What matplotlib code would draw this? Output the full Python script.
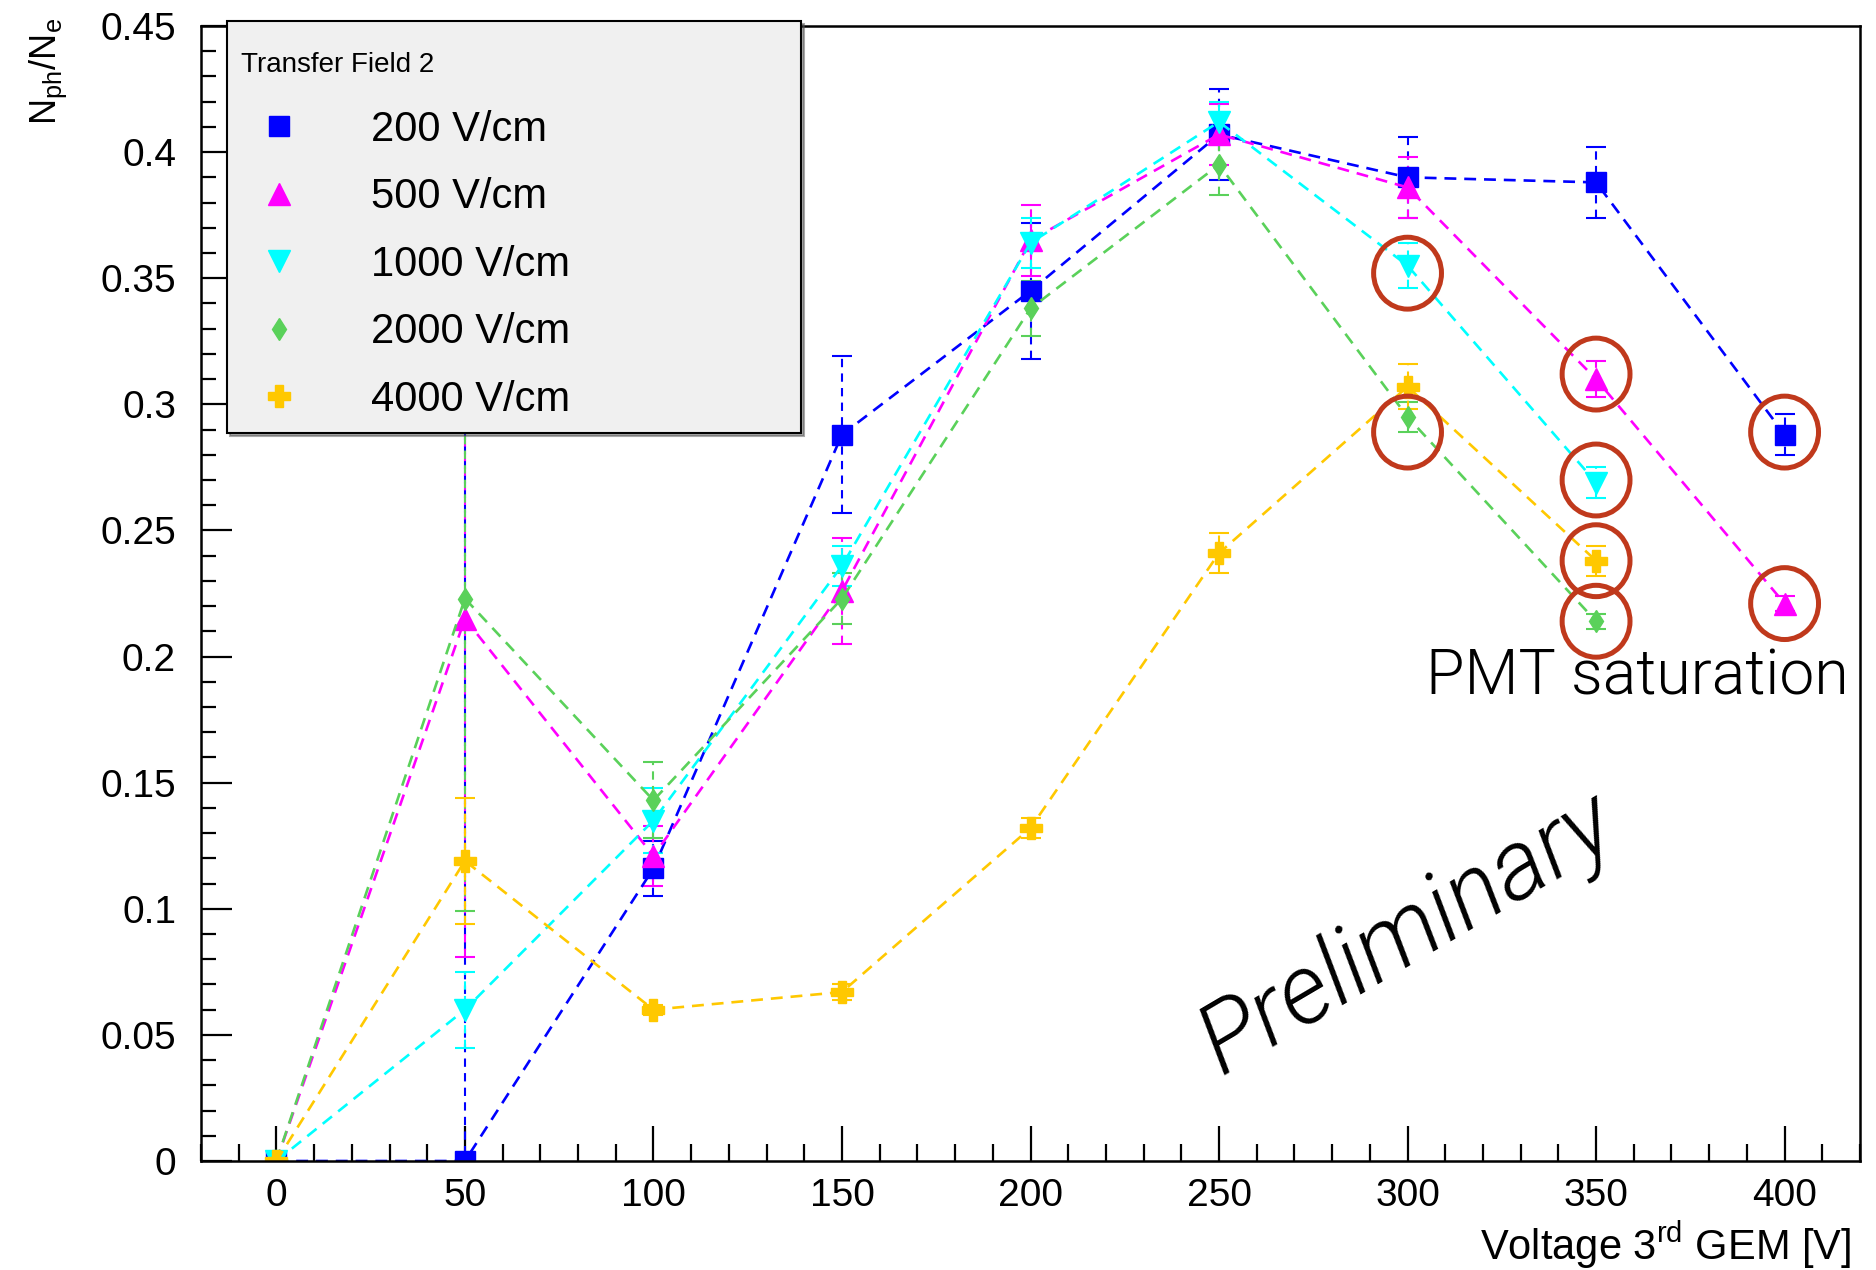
import matplotlib
matplotlib.use("Agg")
import matplotlib.pyplot as plt
from matplotlib.lines import Line2D
from matplotlib.patches import Ellipse
from matplotlib.ticker import MultipleLocator, FuncFormatter

plt.rcParams["font.family"] = ["Liberation Sans", "DejaVu Sans"]
plt.rcParams["mathtext.fontset"] = "custom"
plt.rcParams["mathtext.rm"] = "Liberation Sans"
plt.rcParams["mathtext.it"] = "Liberation Sans:italic"

# Voltage applied to the 3rd GEM [V]
voltage = [0, 50, 100, 150, 200, 250, 300, 350, 400]

# N_ph / N_e for each transfer field, with errors
ratio_200 = [0.0, 0.0, 0.116, 0.288, 0.345, 0.407, 0.390, 0.388, 0.288]
err_200 = [0.0, 0.33, 0.011, 0.031, 0.027, 0.018, 0.016, 0.014, 0.008]

ratio_500 = [0.0, 0.215, 0.121, 0.226, 0.365, 0.407, 0.386, 0.310, 0.221]
err_500 = [0.0, 0.134, 0.012, 0.021, 0.014, 0.012, 0.012, 0.007, 0.003]

ratio_1000 = [0.0, 0.060, 0.135, 0.236, 0.364, 0.412, 0.355, 0.269]
err_1000 = [0.0, 0.015, 0.013, 0.008, 0.010, 0.008, 0.009, 0.006]

ratio_2000 = [0.0, 0.223, 0.143, 0.223, 0.338, 0.395, 0.295, 0.214]
err_2000 = [0.0, 0.124, 0.015, 0.010, 0.011, 0.012, 0.006, 0.003]

ratio_4000 = [0.0, 0.119, 0.060, 0.067, 0.132, 0.241, 0.307, 0.238]
err_4000 = [0.0, 0.025, 0.002, 0.003, 0.004, 0.008, 0.009, 0.006]

labels = ["200 V/cm", "500 V/cm", "1000 V/cm", "2000 V/cm", "4000 V/cm"]
colors = ["#0000ff", "#ff00ff", "#00ffff", "#5ad15a", "#ffc800"]
markers = ["s", "^", "v", "d", "P"]
msizes = [15, 16, 16, 11.5, 16]

series = [ratio_200, ratio_500, ratio_1000, ratio_2000, ratio_4000]
errors = [err_200, err_500, err_1000, err_2000, err_4000]

# Points affected by PMT saturation: (series index, voltage)
saturated = [(2, 300), (3, 300), (1, 350), (2, 350), (4, 350), (3, 350),
             (0, 400), (1, 400)]
# small vertical nudges of the hand-drawn circles
circle_nudge = [-0.003, -0.006, 0.002, 0.001, 0.0, 0.0, 0.001, 0.0]

fig = plt.figure(figsize=(18.76, 12.70), dpi=100)
ax = fig.add_axes([201 / 1876, 1 - 1161 / 1270, 1659 / 1876, 1135 / 1270])

for vals, errs, col, mk, ms in zip(series, errors, colors, markers, msizes):
    x = voltage[:len(vals)]
    line, caps, bars = ax.errorbar(
        x, vals, yerr=errs, color=col, marker=mk, markersize=ms,
        markeredgecolor=col, linestyle=(0, (4.5, 3)), linewidth=1.9,
        elinewidth=1.5, capsize=7, capthick=1.5, clip_on=True)
    for b in bars:
        b.set_linestyle((0, (4, 3)))

# Circles around the saturated points
for (idx, v), dy in zip(saturated, circle_nudge):
    y = series[idx][voltage.index(v)] + dy
    ax.add_patch(Ellipse((v, y), width=18.0, height=0.0285, fill=False,
                         edgecolor="#c0391c", linewidth=3.6, zorder=6))

ax.set_xlim(-20, 420)
ax.set_ylim(0, 0.45)

ax.xaxis.set_major_locator(MultipleLocator(50))
ax.xaxis.set_minor_locator(MultipleLocator(10))
ax.yaxis.set_major_locator(MultipleLocator(0.05))
ax.yaxis.set_minor_locator(MultipleLocator(0.01))
ax.yaxis.set_major_formatter(FuncFormatter(lambda v, p: "%g" % round(v, 3)))

ax.tick_params(which="both", direction="in", top=False, right=False,
               width=1.6, colors="black")
ax.tick_params(which="major", axis="y", length=22, pad=18, labelsize=28)
ax.tick_params(which="minor", axis="y", length=11)
ax.tick_params(which="major", axis="x", length=25, pad=12, labelsize=28)
ax.tick_params(which="minor", axis="x", length=12)
for s in ax.spines.values():
    s.set_linewidth(1.8)

ax.set_ylabel(r"$\mathrm{N_{ph}/N_{e}}$", fontsize=26, loc="top")
ax.yaxis.set_label_coords(-0.092, 1.007)
ax.yaxis.label.set_rotation_mode("default")
ax.yaxis.label.set_ha("center")
ax.yaxis.label.set_va("top")

ax.set_xlabel(r"Voltage 3$^{\mathrm{rd}}$ GEM [V]", fontsize=30, loc="right")
ax.xaxis.set_label_coords(0.995, -0.074)
ax.xaxis.label.set_va("center")

handles = [Line2D([], [], color=c, marker=m, markersize=ms, linestyle="none",
                  markeredgecolor=c)
           for c, m, ms in zip(colors, markers, msizes)]
leg = ax.legend(handles, labels, title="Transfer Field 2", loc="upper left",
                bbox_to_anchor=(0.0157, 0.5, 0.346, 0.504), mode="expand",
                borderaxespad=0, fontsize=30, title_fontsize=20,
                alignment="left", frameon=True, fancybox=False,
                shadow={"color": "#555555"}, facecolor="#f0f0f0",
                edgecolor="black", framealpha=1, labelspacing=0.66,
                handlelength=1.84, handletextpad=1.29, borderpad=0.327)
leg.get_frame().set_linewidth(1.5)
# the header sits in a row as tall as the entry rows
leg._legend_box.sep = 35.0
leg.get_title().set_position((0, -17))

ax.text(305.0, 0.1916, "PMT saturation", fontsize=45,
        family=["Roboto", "DejaVu Sans"], fontweight=300,
        ha="left", va="center")
ax.text(300, 0.09, "Preliminary", fontsize=70,
        family=["Roboto", "DejaVu Sans"], fontweight=300,
        fontstyle="italic", rotation=30.5, ha="center", va="center")

fig.savefig("out.png", dpi=100)
